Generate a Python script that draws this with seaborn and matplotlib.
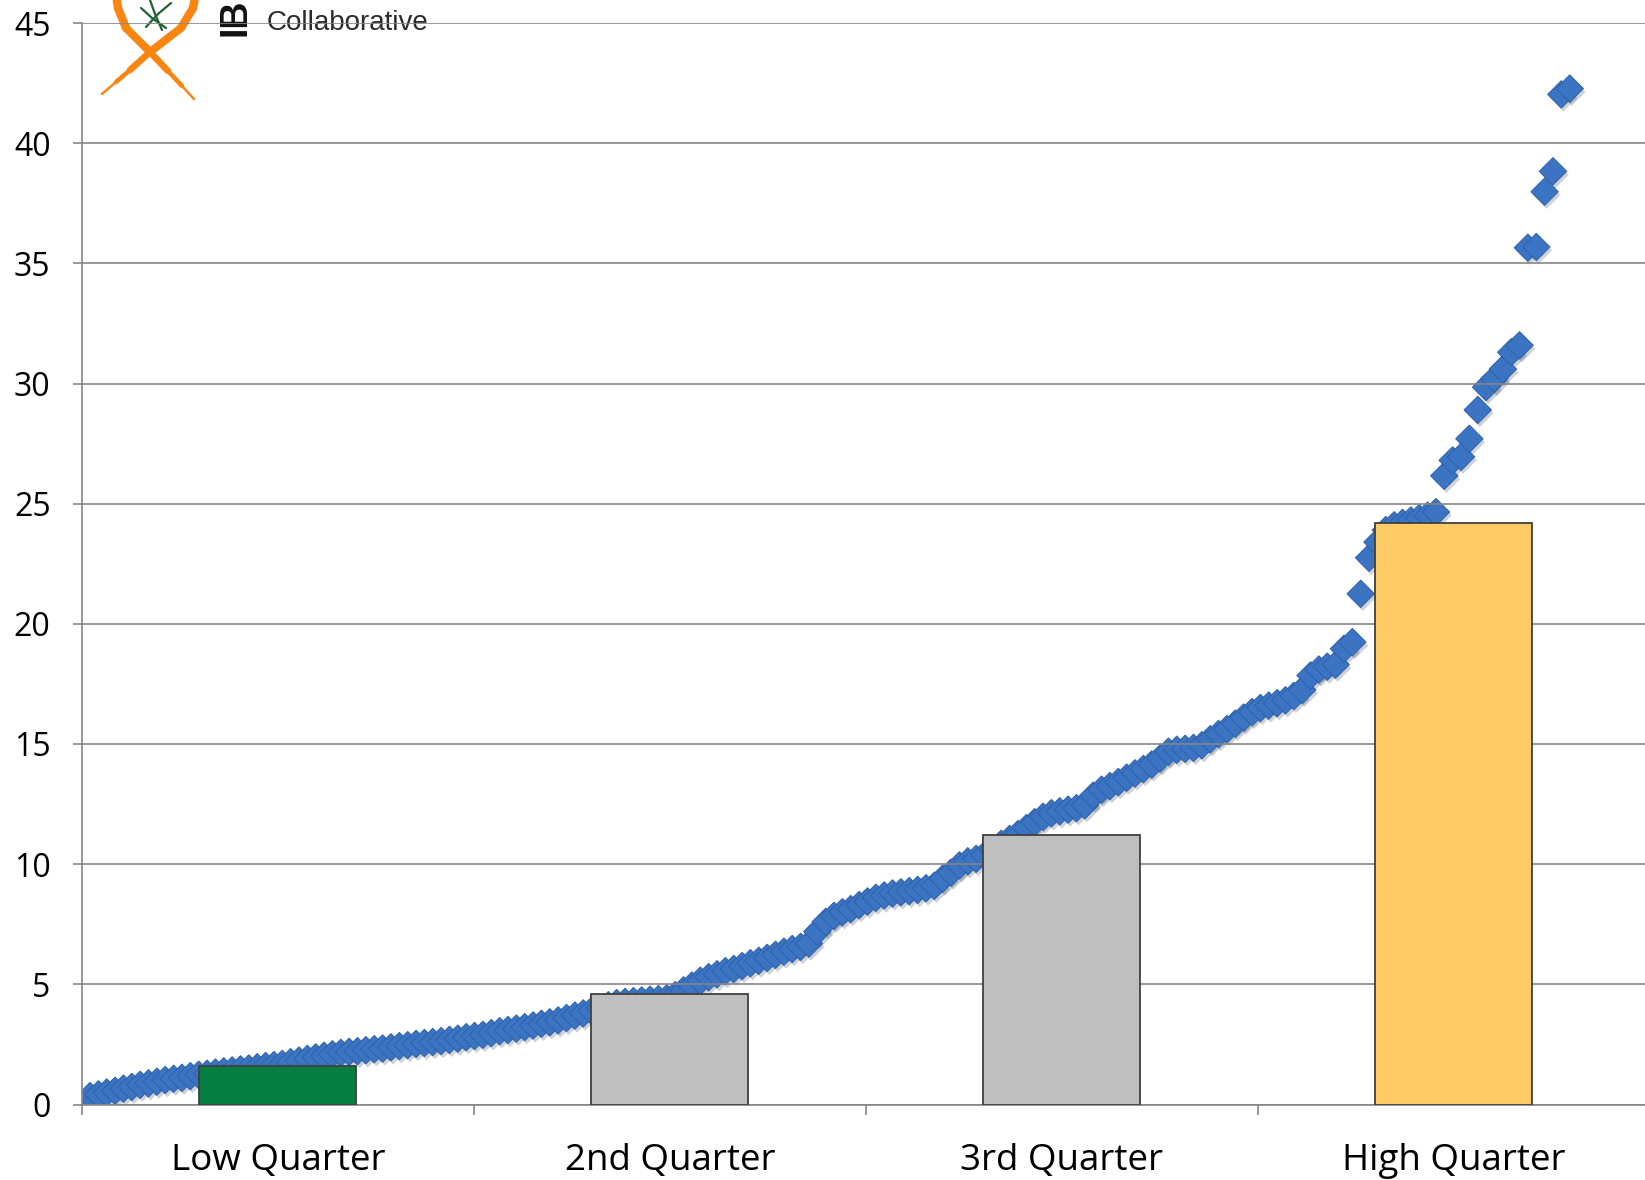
import matplotlib
matplotlib.use("Agg")
import matplotlib.pyplot as plt
import numpy as np
import pandas as pd
import seaborn as sns
from matplotlib import patheffects as pe
from matplotlib.lines import Line2D

# Quarter groups and their mean values (bars)
quarters = ["Low Quarter", "2nd Quarter", "3rd Quarter", "High Quarter"]
quarter_means = [1.6, 4.6, 11.2, 24.2]
quarter_colors = ["#047f41", "#bfbfbf", "#bfbfbf", "#fecb66"]

# Individual sites, sorted ascending (diamonds)
site_values = [
    0.35, 0.42, 0.5, 0.57, 0.66, 0.73, 0.82, 0.88, 0.95, 1.02,
    1.07, 1.11, 1.18, 1.24, 1.28, 1.33, 1.38, 1.42, 1.46, 1.5,
    1.55, 1.6, 1.64, 1.69, 1.76, 1.83, 1.9, 1.96, 2.03, 2.09,
    2.15, 2.19, 2.22, 2.26, 2.3, 2.33, 2.38, 2.43, 2.47, 2.52,
    2.56, 2.6, 2.64, 2.69, 2.74, 2.8, 2.85, 2.9, 2.97, 3.05,
    3.1, 3.16, 3.22, 3.29, 3.36, 3.42, 3.5, 3.6, 3.7, 3.79,
    3.9, 4.02, 4.13, 4.22, 4.27, 4.3, 4.33, 4.36, 4.39, 4.42,
    4.55, 4.75, 4.95, 5.15, 5.3, 5.42, 5.55, 5.64, 5.76, 5.88,
    5.98, 6.1, 6.23, 6.36, 6.47, 6.56, 6.7, 7.2, 7.6, 7.85,
    8.0, 8.13, 8.3, 8.45, 8.6, 8.7, 8.78, 8.83, 8.88, 8.93,
    9.0, 9.1, 9.4, 9.65, 9.95, 10.12, 10.22, 10.38, 10.62, 10.85,
    11.05, 11.25, 11.5, 11.75, 11.97, 12.12, 12.2, 12.27, 12.33, 12.45,
    12.85, 13.1, 13.25, 13.42, 13.6, 13.78, 13.96, 14.15, 14.4, 14.68,
    14.76, 14.8, 14.84, 14.95, 15.2, 15.42, 15.62, 15.85, 16.1, 16.33,
    16.5, 16.6, 16.7, 16.82, 17.0, 17.25, 17.85, 18.1, 18.22, 18.3,
    18.96, 19.24, 21.25, 22.75, 23.4, 23.9, 24.1, 24.2, 24.3, 24.4,
    24.5, 24.65, 26.16, 26.8, 26.95, 27.7, 28.9, 29.85, 30.2, 30.6,
    31.3, 31.59, 35.65, 35.68, 37.98, 38.83, 42.03, 42.27,
]
site_rank = list(range(len(site_values)))

y_ticks = [0, 5, 10, 15, 20, 25, 30, 35, 40, 45]

sns.set_theme(style="white")
plt.rcParams["font.family"] = ["Open Sans", "DejaVu Sans"]

W, H = 1645, 1180
fig = plt.figure(figsize=(W / 100, H / 100), dpi=100)
fig.patch.set_facecolor("white")


def fx(px):
    return px / W


def fy(py):
    return 1 - py / H


# --- logo in the top-left corner (behind the plot) ---
orange = "#f7850f"
# ribbon strands: (x, y, width in points), tapering towards the tails
strand1 = [(115, -12, 6), (118, 8, 6), (126, 28, 6), (150, 52, 5.5),
           (168, 71, 4), (182, 86, 2.5), (194, 99, 1)]
strand2 = [(197, -12, 6), (193, 8, 6), (181, 28, 6), (150, 52, 5.5),
           (130, 70, 4), (116, 82, 2.5), (102, 94, 1)]
for pts in (strand1, strand2):
    for a, b in zip(pts[:-1], pts[1:]):
        fig.add_artist(Line2D([fx(a[0]), fx(b[0])], [fy(a[1]), fy(b[1])],
                              transform=fig.transFigure, color=orange,
                              lw=(a[2] + b[2]) / 2, solid_capstyle="round",
                              zorder=-2))
green = "#1e6331"
for pts in ([(141, 8), (152, 18), (166, 28)], [(146, 27), (158, 14), (171, 3)],
            [(150, 0), (155, 14), (162, 30)]):
    fig.add_artist(Line2D([fx(p[0]) for p in pts], [fy(p[1]) for p in pts],
                          transform=fig.transFigure, color=green, lw=1.6, zorder=-1))
fig.text(fx(217), fy(36), "IBD", rotation=90, ha="left", va="bottom",
         fontsize=27, fontweight="bold", family=["Liberation Sans", "DejaVu Sans"],
         color="#111111", zorder=-1)
fig.text(fx(267), fy(30), "Collaborative", ha="left", va="baseline",
         fontsize=20, family=["Liberation Sans", "DejaVu Sans"],
         color="#2b2b2b", zorder=-1)

# --- axes layout ---
left_px, zero_px, top_px, cat_w = 81.8, 1104.5, 23.0, 392.0
pos = [fx(left_px), fy(zero_px), 4 * cat_w / W, (zero_px - top_px) / H]
ax = fig.add_axes(pos)
ax_pts = ax.twiny()

# diamonds (lower layer)
sns.scatterplot(x=site_rank, y=site_values, ax=ax_pts, marker="D", s=195,
                color="#3a74c3", edgecolor="#2f62a9", linewidth=0.7,
                legend=False, zorder=3)
coll = ax_pts.collections[-1]
coll.set_path_effects([pe.SimplePatchShadow(offset=(1.5, -2.5), alpha=0.2),
                       pe.Normal()])
ax_pts.set_xlim(-0.981, 186.58)
ax_pts.set_ylim(0, 45)
ax_pts.set_xticks([])
ax_pts.set_xlabel("")
ax_pts.set_ylabel("")
for s in ax_pts.spines.values():
    s.set_visible(False)
ax_pts.patch.set_visible(False)

# bars and grid (upper layer)
sns.barplot(x=quarters, y=quarter_means, hue=quarters, palette=quarter_colors,
            legend=False, width=0.4, saturation=1, edgecolor="#404040",
            linewidth=1.3, ax=ax, zorder=3)
ax.set_zorder(ax_pts.get_zorder() + 1)
ax.patch.set_visible(False)
ax.set_xlim(-0.5, 3.5)
ax.set_ylim(0, 45)
ax.set_yticks(y_ticks)
ax.set_axisbelow(True)
grid_col = "#868686"
ax.yaxis.grid(True, color=grid_col, linewidth=1.2)
ax.xaxis.grid(False)
ax.set_xlabel("")
ax.set_ylabel("")

for side in ("top", "right"):
    ax.spines[side].set_visible(False)
for side in ("left", "bottom"):
    ax.spines[side].set_color(grid_col)
    ax.spines[side].set_linewidth(1.2)

ax.tick_params(axis="y", which="major", left=True, length=6.5, width=1.2,
               color=grid_col, pad=16, labelsize=23, labelcolor="black")
ax.set_xticks([-0.5, 0.5, 1.5, 2.5, 3.5], minor=True)
ax.tick_params(axis="x", which="minor", bottom=True, length=7.5, width=1.2,
               color=grid_col)
ax.tick_params(axis="x", which="major", bottom=True, length=0, pad=28,
               labelsize=26.5, labelcolor="black")

fig.savefig("out.png", dpi=100, facecolor="white")
